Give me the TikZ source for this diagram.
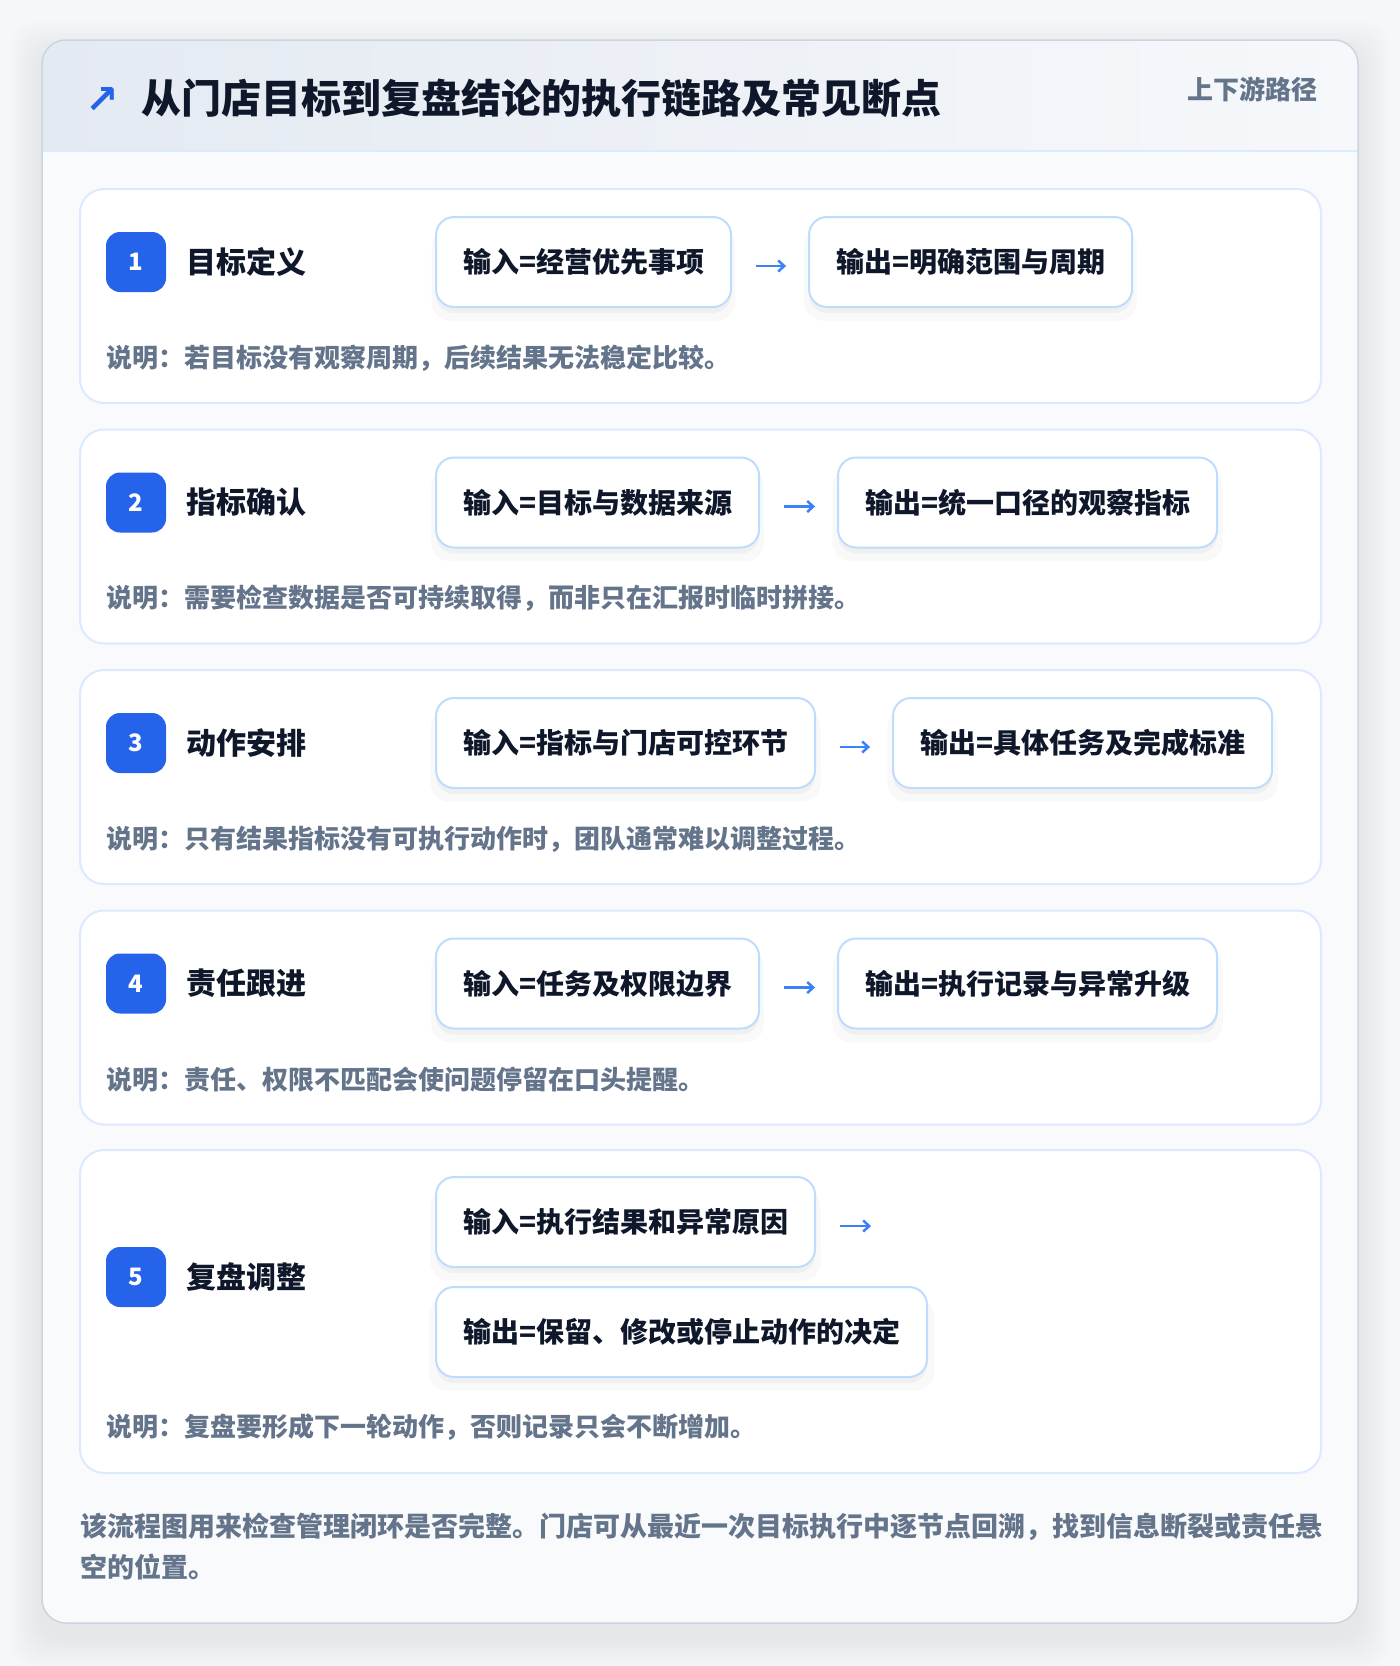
\documentclass[tikz,border=0pt]{standalone}
\usepackage{fontspec}
\setmainfont{Noto Sans CJK SC}
\newfontfamily\symfont{DejaVu Sans}
\usetikzlibrary{positioning,arrows.meta,shadows}

\definecolor{pagebg}{HTML}{F6F7F9}
\definecolor{cardbg}{HTML}{F8FAFC}
\definecolor{cardline}{HTML}{CBD5E1}
\definecolor{headl}{HTML}{E4EAF2}
\definecolor{headr}{HTML}{F6F8FB}
\definecolor{headline}{HTML}{DBEAFE}
\definecolor{rowline}{HTML}{DBEAFE}
\definecolor{boxline}{HTML}{BFDBFE}
\definecolor{badgeblue}{HTML}{2563EB}
\definecolor{flowblue}{HTML}{3B82F6}
\definecolor{ink}{HTML}{0F172A}
\definecolor{muted}{HTML}{64748B}

\begin{document}
\begin{tikzpicture}[x=1pt,y=-1pt]
\tikzstyle{rowcard}=[draw=rowline, line width=2pt, fill=white, rounded corners=24pt, minimum width=1241pt, minimum height=214pt]
\tikzstyle{badge}=[fill=badgeblue, text=white, rounded corners=14pt, minimum size=60pt, font=\fontsize{24}{28}\selectfont\bfseries]
\tikzstyle{steptitle}=[anchor=west, inner sep=0pt, text=ink, font=\fontsize{30}{34}\selectfont\bfseries]
\tikzstyle{iobox}=[draw=boxline, line width=2pt, fill=white, rounded corners=18pt, minimum height=90pt, inner xsep=27pt, anchor=west, text=ink, font=\fontsize{28}{32}\selectfont\bfseries,
  general shadow={shadow xshift=0pt, shadow yshift=-12pt, shadow scale=1.03, fill=black, opacity=0.025},
  general shadow={shadow xshift=0pt, shadow yshift=-6pt, fill=black, opacity=0.035}]
\tikzstyle{note}=[anchor=west, inner sep=0pt, text=muted, font=\fontsize{26}{30}\selectfont\bfseries]
\tikzstyle{flow}=[draw=flowblue, line width=2.5pt, -{Straight Barb[length=6pt,width=11pt]}, shorten <=24pt, shorten >=22pt]

\useasboundingbox (0,0) rectangle (1400,1666);
\fill[pagebg] (0,0) rectangle (1400,1666);

% soft shadow round the card
\foreach \s in {4,8,...,32}
  \fill[black, opacity=0.008, rounded corners=24pt] (42-\s,40-\s+14) rectangle (1358+\s,1623+\s+14);

% card and header
\fill[cardbg, rounded corners=24pt] (42,40) rectangle (1358,1623);
\begin{scope}
\clip[rounded corners=24pt] (42,40) rectangle (1358,1623);
\shade[left color=headl, right color=headr] (42,40) rectangle (1358,151);
\end{scope}
\draw[headline, line width=2pt] (42,151) -- (1358,151);
\draw[cardline, line width=1.5pt, rounded corners=24pt] (42,40) rectangle (1358,1623);

\draw (102,100) node[text=badgeblue, font=\symfont\bfseries\fontsize{40}{44}\selectfont] (icon) {↗};
\draw (141,98) node[anchor=west, inner sep=0pt, text=ink, font=\fontsize{40}{46}\selectfont\bfseries] (title) {从门店目标到复盘结论的执行链路及常见断点};
\draw (1318,89) node[anchor=east, inner sep=0pt, text=muted, font=\fontsize{26}{30}\selectfont\bfseries] (tag) {上下游路径};

% row cards
\draw (700.5,296) node[rowcard] (row1) {};
\draw (700.5,536.5) node[rowcard] (row2) {};
\draw (700.5,777) node[rowcard] (row3) {};
\draw (700.5,1017.5) node[rowcard] (row4) {};
\draw (700.5,1311.5) node[rowcard, minimum height=323pt] (row5) {};

% step 1
\draw (136,262) node[badge] (b1) {1};
\draw (186,262) node[steptitle] (t1) {目标定义};
\draw (435,262) node[iobox] (in1) {输入=经营优先事项};
\node[iobox, right=76pt of in1] (out1) {输出=明确范围与周期};
\draw (106,358) node[note] (n1) {说明：若目标没有观察周期，后续结果无法稳定比较。};

% step 2
\draw (136,502.5) node[badge] (b2) {2};
\draw (186,502.5) node[steptitle] (t2) {指标确认};
\draw (435,502.5) node[iobox] (in2) {输入=目标与数据来源};
\node[iobox, right=77pt of in2] (out2) {输出=统一口径的观察指标};
\draw (106,598.5) node[note] (n2) {说明：需要检查数据是否可持续取得，而非只在汇报时临时拼接。};

% step 3
\draw (136,743) node[badge] (b3) {3};
\draw (186,743) node[steptitle] (t3) {动作安排};
\draw (435,743) node[iobox] (in3) {输入=指标与门店可控环节};
\node[iobox, right=76pt of in3] (out3) {输出=具体任务及完成标准};
\draw (106,839) node[note] (n3) {说明：只有结果指标没有可执行动作时，团队通常难以调整过程。};

% step 4
\draw (136,983.5) node[badge] (b4) {4};
\draw (186,983.5) node[steptitle] (t4) {责任跟进};
\draw (435,983.5) node[iobox] (in4) {输入=任务及权限边界};
\node[iobox, right=77pt of in4] (out4) {输出=执行记录与异常升级};
\draw (106,1079.5) node[note] (n4) {说明：责任、权限不匹配会使问题停留在口头提醒。};

% step 5
\draw (136,1277) node[badge] (b5) {5};
\draw (186,1277) node[steptitle] (t5) {复盘调整};
\draw (435,1222) node[iobox] (in5) {输入=执行结果和异常原因};
\draw (435,1332) node[iobox] (out5) {输出=保留、修改或停止动作的决定};
\coordinate (tip5) at ([xshift=55pt,yshift=-4pt]in5.east);
\draw (106,1427) node[note] (n5) {说明：复盘要形成下一轮动作，否则记录只会不断增加。};

% flow arrows
\draw[flow] ([yshift=-4pt]in1.east) -- ([yshift=-4pt]out1.west);
\draw[flow] ([yshift=-4pt]in2.east) -- ([yshift=-4pt]out2.west);
\draw[flow] ([yshift=-4pt]in3.east) -- ([yshift=-4pt]out3.west);
\draw[flow] ([yshift=-4pt]in4.east) -- ([yshift=-4pt]out4.west);
\draw[flow, shorten >=0pt] ([yshift=-4pt]in5.east) -- (tip5);

% summary
\draw (80,1547) node[anchor=west, inner sep=0pt, align=left, text=muted, font=\fontsize{27}{41}\selectfont\bfseries] (summary) {该流程图用来检查管理闭环是否完整。门店可从最近一次目标执行中逐节点回溯，找到信息断裂或责任悬\\空的位置。};
\end{tikzpicture}
\end{document}
